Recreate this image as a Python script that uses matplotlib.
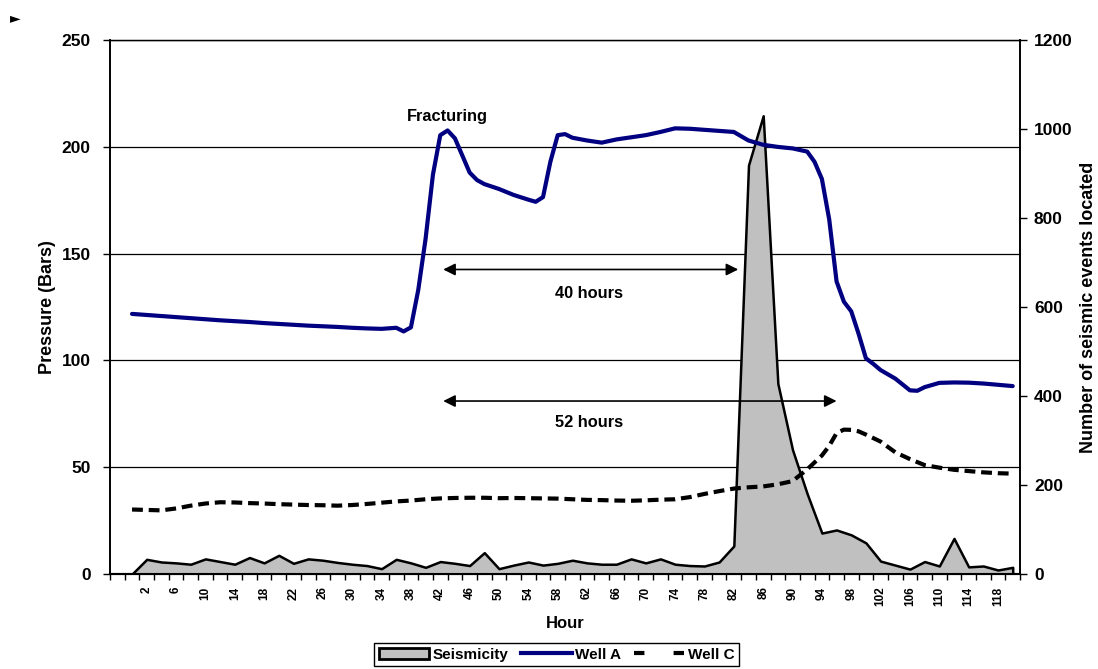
import numpy as np
import matplotlib.pyplot as plt
from matplotlib.patches import Patch
from matplotlib.lines import Line2D

plt.rcParams['font.family'] = ['Liberation Sans', 'DejaVu Sans']
plt.rcParams['font.weight'] = 'bold'

# Datos
seis_hours = list(range(-2, 121, 2))
seismicity = [0, 0, 33, 27, 25, 22, 34, 28, 22, 37, 25, 42, 24, 34, 31, 26,
              22, 19, 12, 33, 25, 15, 28, 24, 19, 48, 12, 20, 27, 20, 24, 31,
              25, 22, 22, 34, 25, 34, 22, 19, 18, 27, 63, 919, 1030, 428, 279,
              180, 92, 99, 88, 70, 29, 20, 11, 28, 18, 80, 16, 18, 9, 15]

wellA_hours = [0, 2, 4, 6, 8, 10, 12, 14, 16, 18, 20, 22, 24, 26, 28, 30, 32,
               34, 36, 37, 38, 39, 40, 41, 42, 43, 44, 45, 46, 47, 48, 50, 52,
               54, 55, 56, 57, 58, 59, 60, 62, 64, 66, 68, 70, 72, 74, 76, 78,
               80, 82, 84, 86, 88, 90, 92, 93, 94, 95, 96, 97, 98, 99, 100,
               101, 102, 104, 106, 107, 108, 110, 112, 114, 116, 118, 120]
wellA = [121.8, 121.3, 120.8, 120.3, 119.8, 119.3, 118.8, 118.4, 118.0, 117.5,
         117.1, 116.7, 116.3, 116.0, 115.7, 115.3, 115.0, 114.8, 115.3, 113.6,
         115.5, 133, 157, 187, 205.5, 207.7, 204, 196, 188, 184.5, 182.6, 180.3,
         177.5, 175.3, 174.3, 176.5, 193, 205.5, 206, 204.3, 203, 202, 203.5,
         204.5, 205.5, 207, 208.7, 208.5, 208, 207.5, 207, 203, 201, 200, 199.3,
         197.8, 193, 185, 166, 137, 127.5, 123, 112.5, 101, 98.4, 95.5, 91.5,
         86, 85.8, 87.5, 89.5, 89.7, 89.6, 89.2, 88.6, 88]

wellC_hours = list(range(0, 93, 2)) + [94, 95, 96, 97, 98, 99, 100, 102, 104,
                                       106, 108, 110, 112, 114, 116, 118, 120]
wellC = [30.2, 30, 29.8, 30.7, 32, 33, 33.6, 33.5, 33.2, 33, 32.7, 32.5, 32.3,
         32.2, 32, 32.3, 32.8, 33.4, 34, 34.4, 35, 35.4, 35.6, 35.7, 35.7, 35.5,
         35.6, 35.5, 35.4, 35.3, 35, 34.7, 34.6, 34.4, 34.3, 34.5, 34.8, 35, 36,
         37.5, 38.8, 40, 40.6, 41, 42, 43.5, 49,
         55.5, 60, 66, 67.6, 67.5, 66.8, 65.3, 62, 57, 53.8, 51, 49.8, 48.8,
         48.2, 47.6, 47.2, 47]

hour_labels = list(range(2, 119, 4))

fig = plt.figure(figsize=(10.98, 6.69), dpi=100)
ax = fig.add_axes([0.1002, 0.142, 0.8288, 0.798])
ax2 = ax.twinx()
ax3 = fig.add_axes(ax.get_position(), sharex=ax, sharey=ax)
ax3.set_axis_off()
ax3.patch.set_visible(False)

# area de sismicidad (eje derecho)
ax2.fill_between(seis_hours, seismicity, 0, facecolor='#c0c0c0',
                 edgecolor='black', linewidth=1.8)
ax2.set_ylim(0, 1200)
ax2.set_yticks(range(0, 1201, 200))
ax2.set_ylabel('Number of seismic events located', fontsize=13,
               fontweight='bold', labelpad=5)

# presiones
ax3.plot(wellA_hours, wellA, color='#000080', lw=3,
         solid_joinstyle='round', solid_capstyle='round')
ax3.plot(wellC_hours, wellC, color='black', lw=3, dashes=(2.6, 1.4),
         dash_capstyle='butt')

ax.set_xlim(-3, 121)
ax.set_ylim(0, 250)
ax.set_yticks(range(0, 251, 50))
ax.grid(axis='y', color='black', lw=0.9)
ax.set_axisbelow(True)
ax.set_xticks(np.arange(-3, 122, 2))
ax.set_xticklabels([])
ax.set_xticks(hour_labels, minor=True)
ax.set_xticklabels([str(h) for h in hour_labels], minor=True)
ax.tick_params(axis='x', which='major', length=4, width=1, direction='out')
ax.tick_params(axis='x', which='minor', length=0, labelrotation=90,
               labelsize=8.5, pad=9)
ax.tick_params(axis='y', length=5, width=1, labelsize=12.5, pad=9)
ax2.tick_params(axis='y', length=5, width=1, labelsize=12.5, pad=5)
ax.set_ylabel('Pressure (Bars)', fontsize=13, fontweight='bold', labelpad=4)
ax.set_xlabel('Hour', fontsize=12, fontweight='bold', labelpad=7)

for a in (ax, ax2):
    a.spines['top'].set_linewidth(0.9)
    a.spines['left'].set_linewidth(1.2)
    a.spines['right'].set_linewidth(1.2)
    a.spines['bottom'].set_linewidth(1.5)

# anotaciones
arrow = dict(arrowstyle='<|-|>,head_length=0.6,head_width=0.3',
             color='black', lw=1.2, mutation_scale=12, shrinkA=0, shrinkB=0)
ax3.annotate('', xy=(82.6, 142.6), xytext=(42.4, 142.6), arrowprops=arrow)
ax3.annotate('', xy=(96, 81), xytext=(42.4, 81), arrowprops=arrow)
ax3.text(62.3, 131.5, '40 hours', ha='center', va='center', fontsize=11.8)
ax3.text(62.3, 70.8, '52 hours', ha='center', va='center', fontsize=11.8)
ax3.text(43, 214.4, 'Fracturing', ha='center', va='center', fontsize=11.8)

handles = [Patch(facecolor='#c0c0c0', edgecolor='black', linewidth=2),
           Line2D([], [], color='#000080', lw=3),
           Line2D([], [], color='black', lw=3, dashes=(2.5, 7))]
fig.legend(handles, ['Seismicity', 'Well A', 'Well C'], loc='upper center',
           bbox_to_anchor=(0.507, 0.0389), ncol=3, frameon=True,
           fancybox=False, edgecolor='black', framealpha=1, fontsize=11,
           handlelength=3.3, handletextpad=0.25, columnspacing=0.8,
           borderpad=0.3, borderaxespad=0)

fig.text(15 / 1098, 1 - 18 / 669, '►', fontsize=10, family='DejaVu Sans',
         ha='center', va='center')

fig.savefig('out.png', dpi=100)
